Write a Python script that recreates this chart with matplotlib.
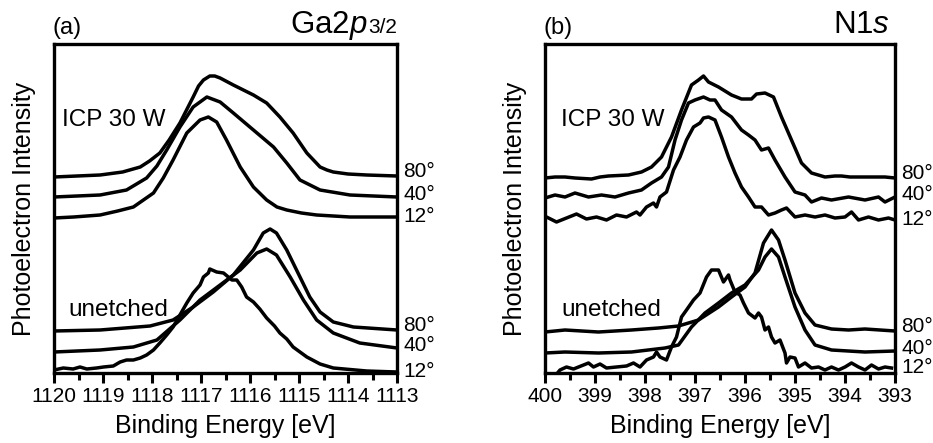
import matplotlib
matplotlib.use('Agg')
import matplotlib.pyplot as plt
from matplotlib.ticker import MultipleLocator

plt.rcParams['font.family'] = ['Liberation Sans', 'DejaVu Sans']
plt.rcParams['mathtext.fontset'] = 'custom'
plt.rcParams['mathtext.rm'] = 'Liberation Sans'
plt.rcParams['mathtext.it'] = 'Liberation Sans:italic'

# ---- Ga2p3/2 panel (binding energy in eV, intensity in arb. units) ----
ga_icp80_be = [1120.00, 1119.06, 1118.60, 1118.24, 1118.05, 1117.84, 1117.65, 1117.43, 1117.16,
               1117.05, 1116.95, 1116.82, 1116.72, 1116.61, 1116.34, 1115.93, 1115.66, 1115.39,
               1115.12, 1114.84, 1114.57, 1114.43, 1114.30, 1114.00, 1113.62, 1113.00]
ga_icp80_int = [196, 198, 201, 206, 212, 220, 233, 250, 276, 287, 293, 297, 297, 295, 288, 278,
                270, 256, 240, 220, 206, 203, 201, 199, 198, 197]

ga_icp40_be = [1120.00, 1119.06, 1118.52, 1118.11, 1117.90, 1117.70, 1117.43, 1117.16, 1116.88,
               1116.61, 1116.34, 1115.93, 1115.52, 1115.25, 1114.98, 1114.57, 1113.96, 1113.00]
ga_icp40_int = [176, 178, 183, 195, 207, 223, 246, 266, 276, 271, 260, 243, 226, 210, 193, 183,
                178, 176]

ga_icp12_be = [1120.00, 1119.60, 1119.06, 1118.70, 1118.38, 1117.97, 1117.77, 1117.57, 1117.29,
               1117.02, 1116.85, 1116.68, 1116.48, 1116.20, 1115.93, 1115.66, 1115.45, 1115.25,
               1114.95, 1114.64, 1114.30, 1113.96, 1113.50, 1113.00]
ga_icp12_int = [155, 156, 158, 162, 166, 180, 195, 213, 240, 253, 256, 251, 233, 206, 186, 173,
                166, 163, 160, 158, 157, 156, 156, 156]

ga_un80_be = [1120.00, 1119.06, 1118.04, 1117.57, 1117.16, 1116.75, 1116.34, 1115.93, 1115.73,
              1115.59, 1115.46, 1115.25, 1114.98, 1114.78, 1114.57, 1114.30, 1113.89, 1113.00]
ga_un80_int = [42, 43, 47, 53, 66, 81, 98, 123, 140, 144, 140, 123, 96, 76, 61, 51, 46, 43]

ga_un40_be = [1120.00, 1119.06, 1118.38, 1117.90, 1117.43, 1117.02, 1116.61, 1116.20, 1115.86,
              1115.66, 1115.46, 1115.18, 1114.91, 1114.64, 1114.30, 1113.76, 1113.00]
ga_un40_int = [21, 23, 26, 33, 53, 73, 88, 103, 120, 124, 118, 96, 73, 53, 40, 30, 25]

ga_un12_be = [1120.00, 1119.81, 1119.61, 1119.47, 1119.33, 1119.13, 1118.99, 1118.79, 1118.65,
              1118.52, 1118.38, 1118.24, 1118.11, 1117.97, 1117.84, 1117.70, 1117.57, 1117.43,
              1117.29, 1117.16, 1117.02, 1116.95, 1116.85, 1116.82, 1116.68, 1116.54, 1116.37,
              1116.27, 1116.17, 1116.07, 1115.93, 1115.80, 1115.66, 1115.50, 1115.39, 1115.25,
              1115.12, 1114.84, 1114.57, 1114.30, 1113.62, 1113.00]
ga_un12_int = [3, 5, 4, 6, 4, 5, 6, 7, 11, 13, 13, 15, 18, 23, 30, 38, 46, 58, 70, 80, 88, 96,
               100, 104, 101, 100, 93, 93, 86, 76, 71, 64, 55, 47, 40, 34, 26, 16, 9, 5, 2, 1]

# ---- N1s panel ----
n_icp80_be = [400.00, 399.80, 399.60, 399.40, 399.07, 398.90, 398.73, 398.33, 398.07, 397.87,
              397.67, 397.47, 397.27, 397.07, 396.93, 396.83, 396.73, 396.53, 396.27, 396.07,
              395.87, 395.77, 395.60, 395.43, 395.27, 395.07, 394.87, 394.67, 394.40, 394.20,
              394.07, 393.90, 393.73, 393.40, 393.20, 393.00]
n_icp80_int = [195, 196, 196, 195, 194, 196, 197, 198, 201, 206, 216, 236, 263, 288, 293, 297,
               291, 286, 278, 274, 274, 279, 280, 276, 256, 233, 210, 200, 196, 197, 197, 196,
               196, 196, 196, 195]

n_icp40_be = [400.00, 399.80, 399.60, 399.40, 399.13, 398.87, 398.60, 398.33, 398.07, 397.87,
              397.67, 397.53, 397.40, 397.27, 397.13, 397.00, 396.83, 396.70, 396.60, 396.47,
              396.27, 396.07, 395.93, 395.80, 395.67, 395.53, 395.40, 395.20, 395.00, 394.80,
              394.67, 394.47, 394.27, 393.93, 393.60, 393.33, 393.20, 393.00]
n_icp40_int = [175, 178, 176, 180, 176, 178, 176, 180, 183, 190, 196, 206, 233, 253, 270, 273,
               276, 273, 273, 263, 256, 243, 238, 233, 223, 225, 213, 196, 181, 178, 171, 175,
               173, 176, 173, 176, 171, 176]

n_icp12_be = [399.97, 399.77, 399.57, 399.37, 399.17, 398.97, 398.77, 398.57, 398.37, 398.17,
              398.10, 397.97, 397.83, 397.77, 397.70, 397.57, 397.43, 397.30, 397.17, 397.03,
              396.90, 396.83, 396.73, 396.60, 396.47, 396.33, 396.20, 396.07, 395.93, 395.80,
              395.67, 395.53, 395.40, 395.27, 395.17, 395.00, 394.80, 394.60, 394.40, 394.20,
              394.00, 393.87, 393.73, 393.53, 393.33, 393.13, 393.00]
n_icp12_int = [156, 151, 155, 159, 154, 156, 153, 158, 156, 161, 158, 166, 170, 166, 176, 181,
               203, 216, 233, 246, 250, 255, 256, 253, 236, 216, 200, 186, 176, 166, 166, 158,
               160, 163, 165, 156, 158, 156, 158, 155, 156, 161, 153, 156, 153, 155, 153]

n_un80_be = [400.00, 399.60, 398.93, 398.27, 397.73, 397.33, 396.93, 396.53, 396.27, 396.00,
             395.80, 395.63, 395.47, 395.33, 395.20, 395.00, 394.80, 394.60, 394.27, 393.93,
             393.60, 393.00]
n_un80_int = [41, 43, 41, 43, 45, 47, 53, 66, 76, 86, 100, 130, 143, 133, 113, 80, 60, 48, 44,
              43, 44, 42]

n_un40_be = [400.00, 399.60, 398.93, 398.27, 397.60, 397.33, 397.07, 396.80, 396.53, 396.27,
             396.00, 395.73, 395.60, 395.47, 395.33, 395.20, 395.00, 394.80, 394.60, 394.27,
             393.60, 393.00]
n_un40_int = [20, 21, 20, 21, 25, 28, 46, 60, 70, 80, 88, 103, 116, 124, 116, 96, 66, 43, 28,
              23, 21, 22]

n_un12_be = [399.75, 399.70, 399.57, 399.43, 399.23, 399.13, 399.03, 398.90, 398.77, 398.57,
             398.37, 398.23, 398.10, 397.97, 397.83, 397.77, 397.70, 397.57, 397.47, 397.37,
             397.27, 397.17, 397.03, 396.90, 396.77, 396.67, 396.53, 396.43, 396.33, 396.30,
             396.20, 396.10, 396.03, 395.93, 395.80, 395.73, 395.67, 395.60, 395.53, 395.47,
             395.40, 395.30, 395.20, 395.17, 395.10, 395.00, 394.93, 394.80, 394.67, 394.53,
             394.40, 394.27, 394.13, 394.00, 393.87, 393.73, 393.60, 393.47, 393.33, 393.20,
             393.07]
n_un12_int = [0, 3, 6, 4, 8, 10, 6, 9, 5, 6, 7, 10, 6, 13, 16, 21, 16, 13, 26, 36, 56, 63, 73,
              80, 96, 103, 103, 91, 98, 93, 81, 78, 70, 60, 55, 60, 56, 43, 46, 36, 30, 33, 20,
              10, 16, 15, 6, 10, 5, 6, 3, 6, 3, 6, 10, 6, 3, 8, 4, 6, 5]

angles = ['80°', '40°', '12°']


def style_axes(ax, xmax, xmin):
    ax.set_xlim(xmax, xmin)
    ax.set_ylim(0, 329)
    ax.set_yticks([])
    ax.xaxis.set_major_locator(MultipleLocator(1))
    ax.xaxis.set_minor_locator(MultipleLocator(0.5))
    ax.tick_params(axis='x', which='major', direction='out', length=7.5, width=2.2,
                   labelsize=15, pad=2.5)
    ax.tick_params(axis='x', which='minor', direction='out', length=5, width=2.2)
    for sp in ax.spines.values():
        sp.set_linewidth(2.4)


def plot_group(ax, curves):
    # small vertical nudges so the angle labels sit like in the original
    nudges = [3.2, 1.6, 0.6] * 2
    for (be, inten), lab, dy in zip(curves, angles * 2, nudges):
        ax.plot(be, inten, color='black', lw=2.5, solid_joinstyle='round')
        ax.annotate(lab, xy=(1, inten[-1]), xycoords=('axes fraction', 'data'),
                    xytext=(4.5, dy), textcoords='offset points', ha='left', va='center',
                    fontsize=15, annotation_clip=False)


fig = plt.figure(figsize=(9.33, 4.43), dpi=100)
ax_a = fig.add_axes([54 / 933, 70 / 443, 343 / 933, 329 / 443])
ax_b = fig.add_axes([545 / 933, 70 / 443, 350 / 933, 329 / 443])

style_axes(ax_a, 1120, 1113)
style_axes(ax_b, 400, 393)

plot_group(ax_a, [(ga_icp80_be, ga_icp80_int), (ga_icp40_be, ga_icp40_int),
                  (ga_icp12_be, ga_icp12_int), (ga_un80_be, ga_un80_int),
                  (ga_un40_be, ga_un40_int), (ga_un12_be, ga_un12_int)])
plot_group(ax_b, [(n_icp80_be, n_icp80_int), (n_icp40_be, n_icp40_int),
                  (n_icp12_be, n_icp12_int), (n_un80_be, n_un80_int),
                  (n_un40_be, n_un40_int), (n_un12_be, n_un12_int)])

for ax, x_icp, x_un in [(ax_a, 0.022, 0.041), (ax_b, 0.046, 0.046)]:
    ax.text(x_icp, 0.751, 'ICP 30 W', transform=ax.transAxes, fontsize=17.5, va='baseline')
    ax.text(x_un, 0.173, 'unetched', transform=ax.transAxes, fontsize=17.5, va='baseline')

ax_a.text(-0.005, 1.03, '(a)', transform=ax_a.transAxes, fontsize=17, va='baseline', ha='left')
ax_b.text(-0.005, 1.03, '(b)', transform=ax_b.transAxes, fontsize=17, va='baseline', ha='left')

# title of panel (a): "Ga2p" followed by a smaller "3/2"
sub = ax_a.text(1.0, 1.033, '3/2', transform=ax_a.transAxes, fontsize=15,
                va='baseline', ha='right')
fig.canvas.draw()
sub_w = sub.get_window_extent().width * 72 / fig.dpi
ax_a.annotate('Ga2$\\mathit{p}$', xy=(1.0, 1.033), xycoords='axes fraction',
              xytext=(-sub_w - 0.3, 0), textcoords='offset points',
              fontsize=22.5, va='baseline', ha='right')
ax_b.text(0.985, 1.033, 'N1$\\mathit{s}$', transform=ax_b.transAxes, fontsize=22.5,
          va='baseline', ha='right')

for ax in (ax_a, ax_b):
    ax.set_xlabel('Binding Energy [eV]', fontsize=18, labelpad=6)
    ax.set_ylabel('Photoelectron Intensity', fontsize=18, labelpad=13)

fig.savefig('out.png', dpi=100)
